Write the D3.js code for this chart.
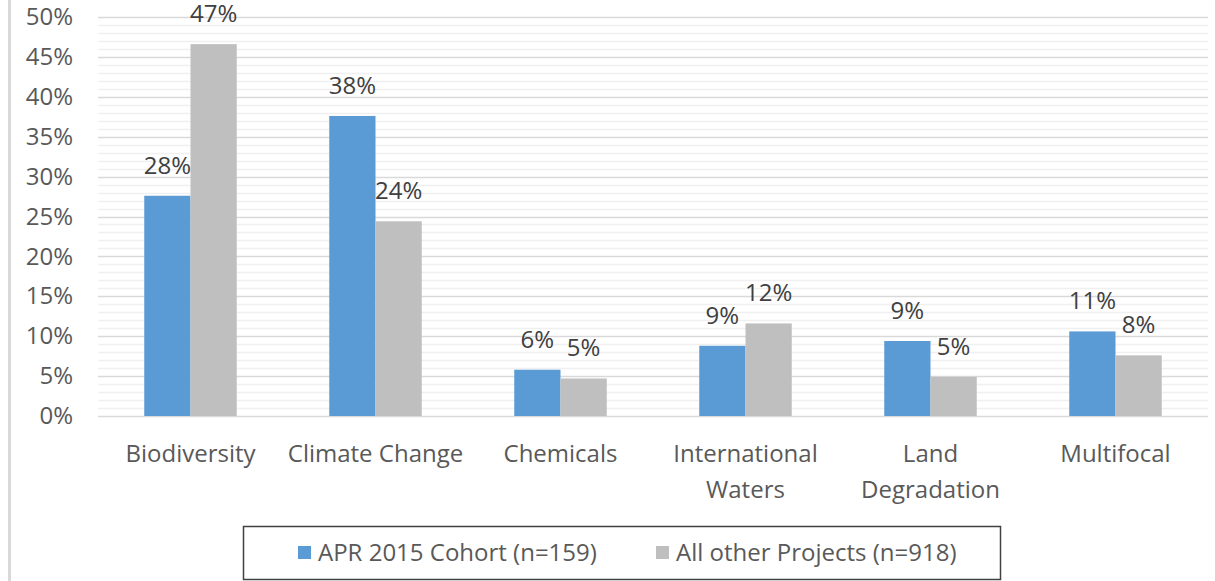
<!DOCTYPE html>
<html>
<head>
<meta charset="utf-8">
<script src="https://cdn.jsdelivr.net/npm/d3@7"></script>
<style>
  body { margin: 0; background: #fff; }
  svg { display: block; font-family: "Open Sans", sans-serif; }
</style>
</head>
<body>
<svg width="1215" height="581"></svg>
<script>
var categories = [["Biodiversity"], ["Climate Change"], ["Chemicals"], ["International", "Waters"], ["Land", "Degradation"], ["Multifocal"]];
var seriesNames = ["APR 2015 Cohort (n=159)", "All other Projects (n=918)"];
var cohort = [27.6, 37.6, 5.8, 8.8, 9.4, 10.6];
var others = [46.6, 24.4, 4.7, 11.6, 4.9, 7.6];
var yTicks = [0, 5, 10, 15, 20, 25, 30, 35, 40, 45, 50];
var colors = ["#5b9bd5", "#bfbfbf"];

var svg = d3.select("svg");

// left frame line
svg.append("rect").attr("x", 8).attr("y", 0).attr("width", 3).attr("height", 581).attr("fill", "#d9d9d9");

var x0 = d3.scaleBand().domain(d3.range(categories.length)).range([98, 1208]).paddingInner(0.5).paddingOuter(0.25);
var x1 = d3.scaleBand().domain([0, 1]).range([0, x0.bandwidth()]);
var y = d3.scaleLinear().domain([0, 50]).range([416, 17]);

// minor grid
svg.append("g").selectAll("line")
    .data(d3.range(0, 51).filter(function(d) { return d % 5 != 0; }))
    .enter().append("line")
    .attr("x1", 98).attr("x2", 1208)
    .attr("y1", function(d) { return Math.round(y(d)) + 0.5; })
    .attr("y2", function(d) { return Math.round(y(d)) + 0.5; })
    .attr("stroke", "#f0f0f0").attr("stroke-width", 1.5);

// major grid
svg.append("g").selectAll("line")
    .data(yTicks)
    .enter().append("line")
    .attr("x1", 98).attr("x2", 1208)
    .attr("y1", function(d) { return Math.round(y(d)) + 0.5; })
    .attr("y2", function(d) { return Math.round(y(d)) + 0.5; })
    .attr("stroke", "#d9d9d9").attr("stroke-width", 1.5);

// y axis labels
var yAxis = d3.axisLeft(y).tickValues(yTicks).tickFormat(function(d) { return d + "%"; }).tickSize(0).tickPadding(0);
var ya = svg.append("g").attr("transform", "translate(73,0)").call(yAxis);
ya.select(".domain").remove();
ya.selectAll("text").attr("font-size", 24).attr("fill", "#595959").attr("font-family", "Open Sans");

var rows = categories.map(function(c, i) { return [cohort[i], others[i]]; });

var groups = svg.append("g").selectAll("g")
    .data(rows)
    .enter().append("g")
    .attr("transform", function(d, i) { return "translate(" + x0(i) + ",0)"; });

groups.selectAll("rect")
    .data(function(d) { return d; })
    .enter().append("rect")
    .attr("x", function(d, j) { return x1(j); })
    .attr("y", function(d) { return y(d); })
    .attr("width", x1.bandwidth())
    .attr("height", function(d) { return y(0) - y(d); })
    .attr("fill", function(d, j) { return colors[j]; });

groups.selectAll("text")
    .data(function(d) { return d; })
    .enter().append("text")
    .attr("x", function(d, j) { return x1(j) + x1.bandwidth() / 2; })
    .attr("y", function(d) { return y(d) - 22; })
    .attr("text-anchor", "middle")
    .attr("font-size", 24)
    .attr("fill", "#404040")
    .text(function(d) { return Math.round(d) + "%"; });

// category labels
var cat = svg.append("g").selectAll("text")
    .data(categories)
    .enter().append("text")
    .attr("x", function(d, i) { return x0(i) + x0.bandwidth() / 2; })
    .attr("y", 462)
    .attr("text-anchor", "middle")
    .attr("font-size", 24)
    .attr("fill", "#595959");
cat.selectAll("tspan")
    .data(function(d) { return d; })
    .enter().append("tspan")
    .attr("x", function() { return this.parentNode.getAttribute("x"); })
    .attr("dy", function(d, i) { return i ? 36 : 0; })
    .text(function(d) { return d; });

// legend
var legend = svg.append("g");
legend.append("rect").attr("x", 243.5).attr("y", 526.5).attr("width", 757).attr("height", 53)
    .attr("fill", "none").attr("stroke", "#404040").attr("stroke-width", 1.5);
var lx = [298, 656];
seriesNames.forEach(function(name, i) {
    legend.append("rect").attr("x", lx[i]).attr("y", 546).attr("width", 13).attr("height", 13).attr("fill", colors[i]);
    legend.append("text").attr("x", lx[i] + 20).attr("y", 561)
        .attr("font-size", 24).attr("fill", "#595959").text(name);
});
</script>
</body>
</html>
